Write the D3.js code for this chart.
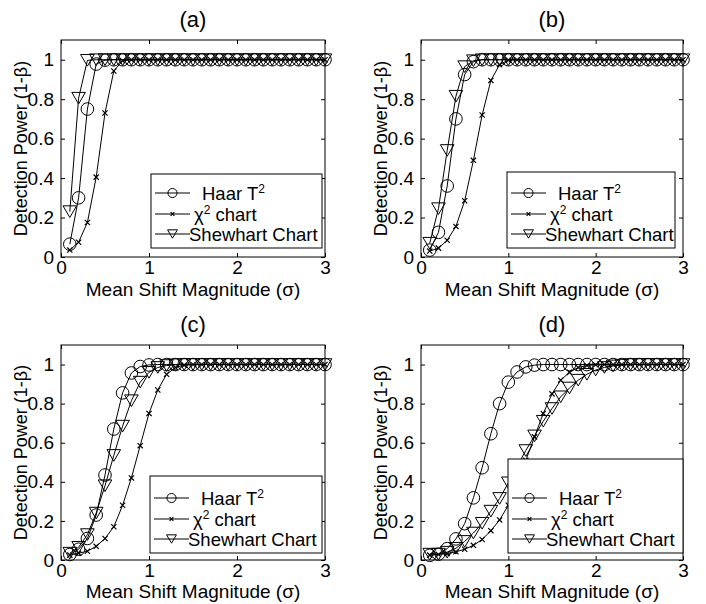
<!DOCTYPE html>
<html><head><meta charset="utf-8">
<script src="https://cdn.jsdelivr.net/npm/d3@7"></script>
<style>
body{margin:0;background:#fff}
svg{display:block}
text{font-family:"Liberation Sans",Arial,Helvetica,sans-serif;fill:#000}
</style>
</head><body>
<svg id="chart" width="706" height="604"></svg>
<script>
// ---------- data ----------
const shifts = [0.1,0.2,0.3,0.4,0.5,0.6,0.7,0.8,0.9,1.0,1.1,1.2,1.3,1.4,1.5,1.6,1.7,1.8,1.9,2.0,2.1,2.2,2.3,2.4,2.5,2.6,2.7,2.8,2.9,3.0];
const xTicks = [0,1,2,3];
const xTickLabels = ["0","1","2","3"];
const yTicks = [0,0.2,0.4,0.6,0.8,1];
const yTickLabels = ["0","0.2","0.4","0.6","0.8","1"];
const panelTitles = ["(a)","(b)","(c)","(d)"];
const xLabel = "Mean Shift Magnitude (\u03C3)";
const yLabel = "Detection Power (1-\u03B2)";

// panel (a)
const haarA = [0.065,0.30,0.75,0.978,0.998,1,1,1,1,1,1,1,1,1,1,1,1,1,1,1,1,1,1,1,1,1,1,1,1,1];
const chiA  = [0.035,0.075,0.175,0.405,0.73,0.943,0.995,1,1,1,1,1,1,1,1,1,1,1,1,1,1,1,1,1,1,1,1,1,1,1];
const shewA = [0.23,0.805,0.997,1,1,1,1,1,1,1,1,1,1,1,1,1,1,1,1,1,1,1,1,1,1,1,1,1,1,1];
// panel (b)
const haarB = [0.035,0.125,0.36,0.70,0.925,0.99,1,1,1,1,1,1,1,1,1,1,1,1,1,1,1,1,1,1,1,1,1,1,1,1];
const chiB  = [0.03,0.045,0.085,0.155,0.285,0.49,0.72,0.895,0.975,0.998,1,1,1,1,1,1,1,1,1,1,1,1,1,1,1,1,1,1,1,1];
const shewB = [0.07,0.245,0.54,0.815,0.965,0.995,1,1,1,1,1,1,1,1,1,1,1,1,1,1,1,1,1,1,1,1,1,1,1,1];
// panel (c)
const haarC = [0.028,0.055,0.11,0.23,0.435,0.67,0.855,0.957,0.99,0.998,1,1,1,1,1,1,1,1,1,1,1,1,1,1,1,1,1,1,1,1];
const chiC  = [0.025,0.035,0.045,0.07,0.11,0.17,0.28,0.42,0.585,0.75,0.87,0.95,0.985,0.997,1,1,1,1,1,1,1,1,1,1,1,1,1,1,1,1];
const shewC = [0.035,0.065,0.13,0.24,0.38,0.535,0.685,0.815,0.91,0.96,0.985,0.995,0.999,1,1,1,1,1,1,1,1,1,1,1,1,1,1,1,1,1];
// panel (d)
const haarD = [0.024,0.03,0.058,0.108,0.186,0.318,0.472,0.646,0.80,0.91,0.962,0.988,0.997,1,1,1,1,1,1,1,1,1,1,1,1,1,1,1,1,1];
const chiD  = [0.025,0.028,0.033,0.042,0.055,0.075,0.105,0.15,0.205,0.28,0.38,0.51,0.63,0.75,0.85,0.92,0.96,0.985,0.995,0.999,1,1,1,1,1,1,1,1,1,1];
const shewD = [0.03,0.03,0.04,0.06,0.095,0.138,0.188,0.25,0.315,0.395,0.48,0.56,0.635,0.71,0.775,0.835,0.88,0.92,0.95,0.972,0.985,0.993,0.997,1,1,1,1,1,1,1];

const legendLabels = [["Haar T","2",""],["\u03C7","2"," chart"],["Shewhart Chart","",""]];
const markers = ["circle","x","triangle"];

// ---------- layout ----------
const panels = [
  {data:[haarA,chiA,shewA], left:61, right:325, top:40, bottom:257, xlabOff:39, leg:{x:151,y:174,w:171,h:74}},
  {data:[haarB,chiB,shewB], left:421, right:683, top:40, bottom:257, xlabOff:39, leg:{x:507,y:172,w:168,h:76}},
  {data:[haarC,chiC,shewC], left:61, right:325, top:345, bottom:560, xlabOff:38, leg:{x:150,y:476,w:172,h:77}},
  {data:[haarD,chiD,shewD], left:421, right:683, top:345, bottom:560, xlabOff:38, leg:{x:508,y:459,w:175,h:94}}
];
const legRowOff = [-55,-34,-14];
const legTextX = [51,43,38];

const svg = d3.select("#chart");
svg.append("rect").attr("width",706).attr("height",604).attr("fill","#fff");

function drawMarker(g, type, cx, cy, s) {
  if (type === "circle") {
    g.append("circle").attr("cx",cx).attr("cy",cy).attr("r",6.3*s)
      .attr("fill","none").attr("stroke","#000").attr("stroke-width",1);
  } else if (type === "x") {
    const d = 2.6*s;
    g.append("path").attr("d",`M${cx-d},${cy-d}L${cx+d},${cy+d}M${cx-d},${cy+d}L${cx+d},${cy-d}`)
      .attr("stroke","#000").attr("stroke-width",1.2).attr("fill","none");
  } else {
    const w = 6.8*s, h = 5.8*s;
    g.append("path").attr("d",`M${cx-w},${cy-h}L${cx+w},${cy-h}L${cx},${cy+h}Z`)
      .attr("fill","none").attr("stroke","#000").attr("stroke-width",1);
  }
}

panels.forEach((p, pi) => {
  const x = d3.scaleLinear().domain([0,3]).range([p.left,p.right]);
  const y = d3.scaleLinear().domain([0,1.1]).range([p.bottom,p.top]);
  const g = svg.append("g");

  // axes (inward ticks, box)
  const gx = g.append("g").attr("transform",`translate(0,${p.bottom})`)
    .call(d3.axisBottom(x).tickValues(xTicks).tickFormat((d,i)=>xTickLabels[i]).tickSizeInner(-4).tickSizeOuter(0).tickPadding(4));
  gx.selectAll("text").style("font-size","19px").attr("dy","0.71em");
  g.append("g").attr("transform",`translate(0,${p.top})`)
    .call(d3.axisTop(x).tickValues(xTicks).tickFormat("").tickSizeInner(-4).tickSizeOuter(0));
  const gy = g.append("g").attr("transform",`translate(${p.left},0)`)
    .call(d3.axisLeft(y).tickValues(yTicks).tickFormat((d,i)=>yTickLabels[i]).tickSizeInner(-4).tickSizeOuter(0).tickPadding(7));
  gy.selectAll("text").style("font-size","19px");
  g.append("g").attr("transform",`translate(${p.right},0)`)
    .call(d3.axisRight(y).tickValues(yTicks).tickFormat("").tickSizeInner(-4).tickSizeOuter(0));
  g.selectAll(".domain").remove();
  g.selectAll(".tick line").attr("stroke","#000");
  g.append("rect").attr("x",p.left).attr("y",p.top).attr("width",p.right-p.left).attr("height",p.bottom-p.top)
    .attr("fill","none").attr("stroke","#000").attr("stroke-width",1);

  // series
  const clipId = "clip"+pi;
  svg.append("clipPath").attr("id",clipId).append("rect")
    .attr("x",p.left-8).attr("y",p.top).attr("width",p.right-p.left+16).attr("height",p.bottom-p.top+8);
  const sg = g.append("g").attr("clip-path",`url(#${clipId})`);
  p.data.forEach((vals, si) => {
    const pts = shifts.map((s,i)=>[x(s), y(vals[i])]);
    sg.append("path").attr("d", d3.line()(pts)).attr("fill","none").attr("stroke","#000").attr("stroke-width",1);
    pts.forEach(pt => drawMarker(sg, markers[si], pt[0], pt[1], 1));
  });

  // legend
  const L = p.leg;
  const lg = g.append("g");
  lg.append("rect").attr("x",L.x).attr("y",L.y).attr("width",L.w).attr("height",L.h)
    .attr("fill","#fff").attr("stroke","#000").attr("stroke-width",1);
  legendLabels.forEach((lab, li) => {
    const ry = L.y + L.h + legRowOff[li];
    lg.append("line").attr("x1",L.x+4).attr("x2",L.x+39).attr("y1",ry).attr("y2",ry).attr("stroke","#000");
    drawMarker(lg, markers[li], L.x+21.5, ry, 0.72);
    const t = lg.append("text").attr("x",L.x+legTextX[li]).attr("y",ry+7).style("font-size","18.5px");
    t.append("tspan").text(lab[0]);
    if (lab[1]) t.append("tspan").attr("dy",-7).style("font-size","12px").text(lab[1]);
    if (lab[2]) t.append("tspan").attr("dy",7).text(lab[2]);
  });

  // title and axis labels
  const cx = (p.left+p.right)/2;
  g.append("text").attr("x",cx).attr("y",p.top-13).attr("text-anchor","middle").style("font-size","22px").text(panelTitles[pi]);
  g.append("text").attr("x",cx).attr("y",p.bottom+p.xlabOff).attr("text-anchor","middle").style("font-size","19px").text(xLabel);
  g.append("text").attr("transform",`translate(${p.left-34},${(p.top+p.bottom)/2}) rotate(-90)`)
    .attr("text-anchor","middle").style("font-size","18px").text(yLabel);
});
</script>
</body></html>
